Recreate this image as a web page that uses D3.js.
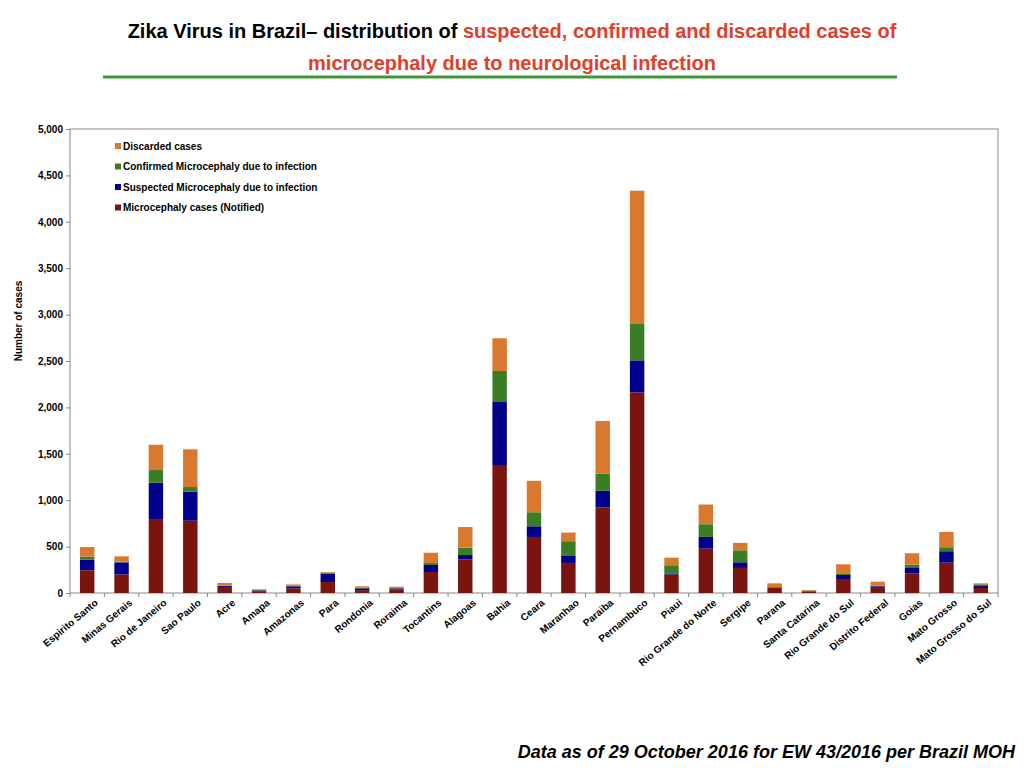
<!DOCTYPE html>
<html>
<head>
<meta charset="utf-8">
<script src="https://cdn.jsdelivr.net/npm/d3@7"></script>
<style>
  body { margin: 0; background: #fff; font-family: "Liberation Sans", Arial, sans-serif; }
  .axis text { font-size: 10px; font-weight: bold; fill: #000; }
  .axis path, .axis line { stroke: #888; }
</style>
</head>
<body>
<svg id="chart" width="1024" height="768"></svg>
<script>
const svg = d3.select("#chart")
const margin = { top: 129, right: 26, bottom: 175, left: 70 }
const width = 1024 - margin.left - margin.right
const height = 768 - margin.top - margin.bottom

// notified, suspected, confirmed, discarded
const data = [
  ["Espirito Santo", 245, 115, 32, 103],
  ["Minas Gerais", 200, 130, 7, 58],
  ["Rio de Janeiro", 797, 391, 137, 273],
  ["Sao Paulo", 779, 313, 50, 406],
  ["Acre", 65, 10, 5, 28],
  ["Amapa", 20, 8, 2, 10],
  ["Amazonas", 50, 22, 10, 10],
  ["Para", 118, 90, 11, 7],
  ["Rondonia", 30, 20, 10, 12],
  ["Roraima", 40, 10, 5, 13],
  ["Tocantins", 226, 76, 21, 111],
  ["Alagoas", 363, 46, 79, 223],
  ["Bahia", 1370, 688, 334, 353],
  ["Ceara", 604, 115, 151, 339],
  ["Maranhao", 324, 75, 159, 93],
  ["Paraiba", 921, 180, 183, 569],
  ["Pernambuco", 2162, 345, 392, 1436],
  ["Piaui", 198, 8, 93, 82],
  ["Rio Grande do Norte", 478, 126, 137, 212],
  ["Sergipe", 270, 61, 129, 80],
  ["Parana", 54, 5, 5, 40],
  ["Santa Catarina", 15, 5, 5, 7],
  ["Rio Grande do Sul", 151, 43, 11, 104],
  ["Distrito Federal", 65, 8, 5, 44],
  ["Goias", 209, 68, 29, 122],
  ["Mato Grosso", 327, 123, 43, 165],
  ["Mato Grosso do Sul", 54, 21, 19, 10]
].map(d => ({ state: d[0], notified: d[1], suspected: d[2], confirmed: d[3], discarded: d[4] }))

const keys = ["notified", "suspected", "confirmed", "discarded"]
const colors = { notified: "#7a140f", suspected: "#00008b", confirmed: "#3a7d22", discarded: "#d9782f" }
const labels = {
  discarded: "Discarded cases",
  confirmed: "Confirmed Microcephaly due to infection",
  suspected: "Suspected Microcephaly due to infection",
  notified: "Microcephaly cases (Notified)"
}

// title
let t1 = svg.append("text").attr("x", 512).attr("y", 38).attr("text-anchor", "middle")
  .style("font-size", "20px").style("font-weight", "bold")
t1.append("tspan").text("Zika Virus in Brazil\u2013  distribution of  ").attr("fill", "#000")
t1.append("tspan").text("suspected, confirmed  and discarded cases of").attr("fill", "#e0402a")
svg.append("text").attr("x", 512).attr("y", 70).attr("text-anchor", "middle")
  .style("font-size", "20px").style("font-weight", "bold").attr("fill", "#e0402a")
  .text("microcephaly due to neurological infection")
svg.append("line").attr("x1", 103).attr("x2", 897).attr("y1", 77).attr("y2", 77)
  .attr("stroke", "#3d9a35").attr("stroke-width", 3)

let chartGroup = svg.append("g").attr("transform", `translate(${margin.left}, ${margin.top})`)

let x = d3.scaleBand().domain(data.map(d => d.state)).range([0, width]).paddingInner(0.58).paddingOuter(0.29)
let y = d3.scaleLinear().domain([0, 5000]).range([height, 0])

chartGroup.append("rect").attr("width", width).attr("height", height)
  .attr("fill", "none").attr("stroke", "#888")

chartGroup.append("g").attr("class", "axis")
  .call(d3.axisLeft(y).tickValues(d3.range(0, 5001, 500)).tickSize(4))
  .call(g => g.select(".domain").remove())

let xAxis = chartGroup.append("g").attr("class", "axis")
  .attr("transform", `translate(0, ${height})`)
  .call(d3.axisBottom(x).tickSize(0).tickPadding(8))
xAxis.select(".domain").remove()
xAxis.selectAll("text")
  .attr("text-anchor", "end")
  .attr("transform", "translate(4,2) rotate(-40)")
  .attr("dy", "0.35em")
// ticks between categories
const step = x.step()
chartGroup.append("g").selectAll("line")
  .data(d3.range(data.length + 1))
  .enter().append("line")
  .attr("x1", i => i * step).attr("x2", i => i * step)
  .attr("y1", height).attr("y2", height + 4)
  .attr("stroke", "#888")

const stacked = d3.stack().keys(keys)(data)
chartGroup.selectAll(".layer").data(stacked).enter().append("g")
  .attr("fill", s => colors[s.key])
  .selectAll("rect").data(s => s).enter().append("rect")
  .attr("x", d => x(d.data.state))
  .attr("width", x.bandwidth())
  .attr("y", d => y(d[1]))
  .attr("height", d => y(d[0]) - y(d[1]))

chartGroup.append("text")
  .attr("transform", "rotate(-90)")
  .attr("x", -height / 2 + 40).attr("y", -48)
  .attr("text-anchor", "middle")
  .style("font-size", "10px").style("font-weight", "bold")
  .text("Number of cases")

let legend = chartGroup.append("g").attr("transform", "translate(45, 17)")
;["discarded", "confirmed", "suspected", "notified"].forEach((k, i) => {
  let g = legend.append("g").attr("transform", `translate(0, ${i * 20.5})`)
  g.append("rect").attr("x", 0).attr("y", -3).attr("width", 6).attr("height", 6).attr("fill", colors[k])
  g.append("text").attr("x", 8).attr("y", 3.5).style("font-size", "10px").style("font-weight", "bold").text(labels[k])
})

svg.append("text").attr("x", 1015).attr("y", 758).attr("text-anchor", "end")
  .style("font-size", "18px").style("font-weight", "bold").style("font-style", "italic")
  .text("Data as of 29 October 2016 for EW 43/2016 per Brazil MOH")
</script>
</body>
</html>
